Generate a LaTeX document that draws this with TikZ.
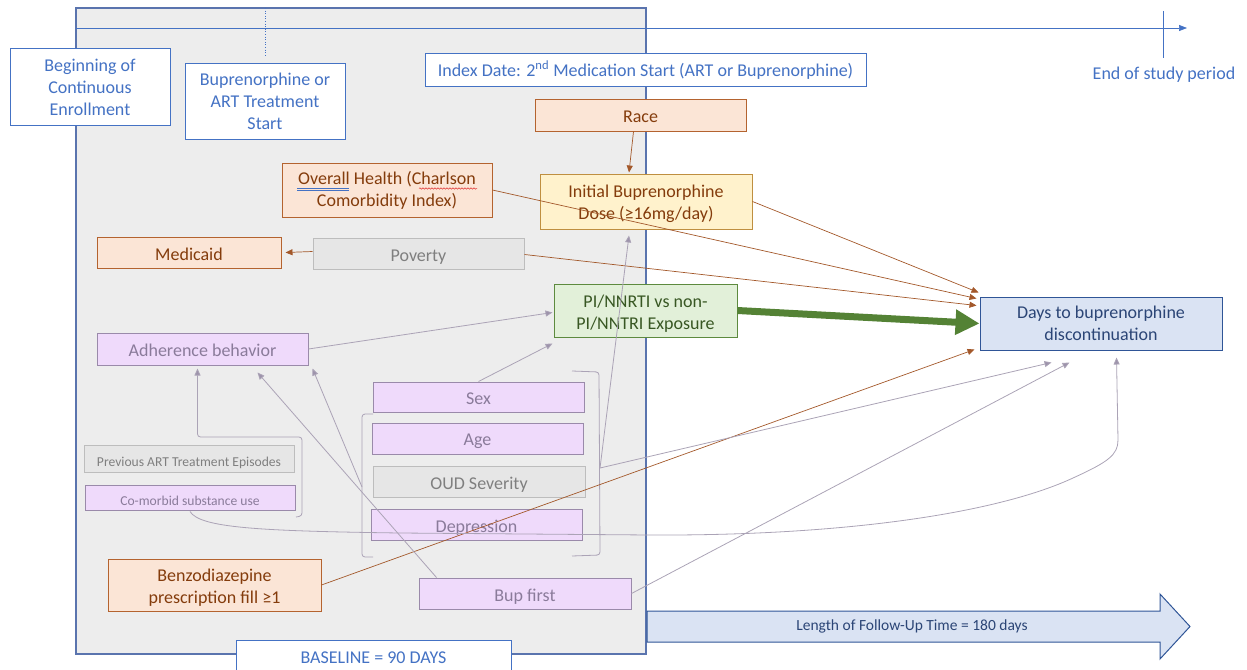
\documentclass[tikz,border=0pt]{standalone}
\usepackage{fontspec}
\setmainfont{Carlito}
\usetikzlibrary{arrows.meta,calc,decorations.pathmorphing}

\definecolor{tlblue}{HTML}{4472C4}
\definecolor{panelfill}{HTML}{EDEDED}
\definecolor{panelline}{HTML}{5A74AE}
\definecolor{peachfill}{HTML}{FBE5D6}
\definecolor{peachline}{HTML}{B4632F}
\definecolor{browntext}{HTML}{843C0C}
\definecolor{dosefill}{HTML}{FFF2CC}
\definecolor{doseline}{HTML}{BF8F40}
\definecolor{greenfill}{HTML}{E2F0D9}
\definecolor{greenline}{HTML}{5D8A3E}
\definecolor{greentext}{HTML}{385723}
\definecolor{greenarrow}{HTML}{548235}
\definecolor{daysfill}{HTML}{DAE3F3}
\definecolor{daysline}{HTML}{2F5597}
\definecolor{daystext}{HTML}{2B4576}
\definecolor{lavfill}{HTML}{EFDAFB}
\definecolor{lavline}{HTML}{9A8AAA}
\definecolor{lavtext}{HTML}{8A7B9A}
\definecolor{greyfill}{HTML}{E6E6E6}
\definecolor{greyline}{HTML}{BDBDBD}
\definecolor{greytext}{HTML}{7F7F7F}
\definecolor{conngrey}{HTML}{ABA3B6}
\definecolor{conngreytip}{HTML}{9D93AB}
\definecolor{connbrown}{HTML}{A3582A}
\definecolor{spellred}{HTML}{E03030}

% strut that lowers the first line of a two-line label
\newcommand{\firststrut}[1]{\rule{0pt}{#1}}

\begin{document}
\begin{tikzpicture}[x=1pt,y=-1pt,
  box/.style={draw, line width=1pt, align=center, inner sep=0pt,
    font=\fontsize{18}{22}\selectfont},
  lowtext/.style={execute at begin node={\rule[-3pt]{0pt}{21pt}}},
  lowsmall/.style={execute at begin node={\rule[-2pt]{0pt}{16pt}}},
  sz/.style 2 args={minimum width=#1pt, minimum height=#2pt},
  timebox/.style={box, fill=white, draw=tlblue, text=tlblue},
  peachbox/.style={box, lowtext, fill=peachfill, draw=peachline, text=browntext},
  dosebox/.style={box, lowtext, fill=dosefill, draw=doseline, text=browntext},
  lavbox/.style={box, lowtext, fill=lavfill, draw=lavline, text=lavtext},
  greybox/.style={box, lowtext, fill=greyfill, draw=greyline, text=greytext},
  smalltext/.style={lowsmall, font=\fontsize{13.6}{16}\selectfont},
  brownarrow/.style={draw=connbrown, line width=0.7pt,
    -{Triangle[length=7pt,width=6pt]}, color=connbrown},
  greyarrow/.style={draw=conngrey, line width=0.8pt,
    -{Triangle[length=7pt,width=6pt,fill=conngreytip]}},
  bracket/.style={draw=conngrey, line width=0.8pt, rounded corners=3pt},
]
\useasboundingbox (0,0) rectangle (1247,669);

% baseline window
\draw[fill=panelfill, draw=panelline, line width=1.2pt] (76,8) rectangle (646,654);

% study time line with its ticks
\coordinate (tlstart) at (76,28);
\coordinate (tlend) at (1187,28);
\draw[draw=tlblue, line width=0.7pt, -{Triangle[length=8pt,width=6pt]}, color=tlblue] (tlstart) -- (tlend);
\draw[draw=tlblue, line width=0.6pt, dotted] (265,8) -- (265,55);
\draw[draw=tlblue, line width=0.6pt] (1163,11) -- (1163,58);
\node[text=tlblue, font=\fontsize{18}{22}\selectfont] (endstudy) at (1164,75) {End of study period};

% timeline labels
\node[timebox, sz={160}{76}] (begin) at (90,87) {Beginning of\\Continuous\\Enrollment};
\node[timebox, sz={160}{75}] (bupstart) at (265,101.5) {Buprenorphine or\\ART Treatment\\Start};
\node[timebox, sz={441}{32}] (index) at (645.5,70) {Index Date: 2\textsuperscript{nd} Medication Start (ART or Buprenorphine)};

% covariates and confounders
\node[peachbox, sz={211}{32}] (race) at (640.5,115) {Race};
\node[peachbox, sz={210}{54}] (overall) at (387,190) {Overall Health (Charlson\\Comorbidity Index)};
\node[dosebox, sz={212}{55}] (dose) at (646,201.5) {\firststrut{17pt}Initial Buprenorphine\\Dose (≥16mg/day)};
\node[peachbox, sz={184}{31}] (medicaid) at (189,252.5) {Medicaid};
\node[greybox, sz={211}{31}] (poverty) at (418.5,253.5) {Poverty};
\node[box, lowtext, fill=greenfill, draw=greenline, text=greentext, sz={183}{53}] (pi) at (645.5,310.5) {\firststrut{18pt}PI/NNRTI vs non-\\PI/NNTRI Exposure};
\node[box, fill=daysfill, draw=daysline, text=daystext, sz={242}{53}] (days) at (1101,323.5) {Days to buprenorphine\\discontinuation};
\node[lavbox, sz={211}{32}] (adherence) at (202.5,349) {Adherence behavior};
\node[lavbox, sz={211}{30}] (sex) at (478.5,397) {Sex};
\node[lavbox, sz={211}{31}] (age) at (477.5,438.5) {Age};
\node[greybox, sz={212}{31}] (oud) at (479,481.5) {OUD Severity};
\node[lavbox, sz={211}{31}] (depression) at (476.5,524.5) {Depression};
\node[greybox, smalltext, sz={210}{27}] (prevart) at (189,458.5) {Previous ART Treatment Episodes};
\node[lavbox, smalltext, sz={210}{25}] (comorbid) at (190,497.5) {Co-morbid substance use};
\node[peachbox, sz={213}{52}] (benzo) at (214.5,585) {\firststrut{18.5pt}Benzodiazepine\\prescription fill ≥1};
\node[lavbox, sz={212}{31}] (bup) at (525,593.5) {Bup first};
\node[timebox, sz={275}{36}] (baseline) at (373.5,658) {BASELINE = 90 DAYS};

% follow-up period arrow
\draw[fill=daysfill, draw=daysline, line width=1pt]
  (647,611) -- (1160,611) -- (1160,594) -- (1190,626.5) -- (1160,659) -- (1160,642) -- (647,642) -- cycle;
\node[text=daystext, font=\fontsize{15.5}{18}\selectfont] (followup) at (912,626.5) {Length of Follow-Up Time = 180 days};

% spelling marks under the health label
\draw[tlblue, line width=0.6pt] (297,188) -- (349,188) (297,190.3) -- (349,190.3);
\draw[spellred, line width=0.5pt, decorate, decoration={snake, segment length=3pt, amplitude=0.7pt}] (419,188.5) -- (477,188.5);

% group brackets
\coordinate (brL) at (362,487);
\coordinate (brR) at (600,468);
\draw[bracket] (373,414) -- (362,414) -- (362,557) -- (373,557);
\draw[bracket] (572,371) -- (599,372) -- (600,555) -- (572,556);

% arrow ends near the outcome
\coordinate (d1) at ($(days.north west)+(-1,-4)$);
\coordinate (d2) at ($(days.north west)+(-3,2)$);
\coordinate (d3) at ($(days.north west)+(-3,9)$);
\coordinate (dbz) at ($(days.south west)+(-5,-1)$);
\coordinate (g1) at ($(days.south west)+(72,12)$);
\coordinate (g2) at ($(days.south west)+(90,12)$);
\coordinate (g3) at ($(days.south west)+(137,7)$);

% brown paths
\draw[brownarrow] ($(race.south)+(-7,0)$) -- ($(dose.north)+(-17,-1)$);
\draw[brownarrow] (dose.east) -- (d1);
\draw[brownarrow] (overall.east) -- (d2);
\draw[brownarrow] ($(poverty.east)+(0,1)$) -- (d3);
\draw[brownarrow] ($(poverty.west)+(0,-2)$) -- ($(medicaid.east)+(4,0)$);
\draw[brownarrow] (benzo.east) -- (dbz);

% main exposure path
\draw[draw=greenarrow, line width=7pt, -{Triangle[length=24pt,width=24pt]}, color=greenarrow]
  (pi.east) -- (days.west);

% grey paths
\draw[greyarrow] (adherence.east) -- ($(pi.west)+(-1,2)$);
\draw[greyarrow] (sex.north) -- ($(pi.south west)+(-1,6)$);
\draw[greyarrow] (brR) -- ($(dose.south)+(-17,6)$);
\draw[greyarrow] (brR) -- (g1);
\draw[greyarrow] (bup.east) -- (g2);
\draw[greyarrow] ($(bup.north west)+(18,0)$) -- ($(adherence.south)+(55,7)$);
\draw[greyarrow] (brL) -- ($(adherence.south east)+(4,3)$);
\draw[greyarrow, rounded corners=3pt] (296,517) -- (302,516) -- (302,437) -- (197.5,437) -- ($(adherence.south)+(-5,3)$);
\draw[greyarrow] ($(comorbid.south)+(0,1)$) .. controls (200,528) and (260,531) .. (400,533)
  -- (650,535) .. controls (850,536) and (1000,512) .. (1073,478)
  .. controls (1108,462) and (1118,455) .. (1118,440) -- (g3);

\end{tikzpicture}
\end{document}
